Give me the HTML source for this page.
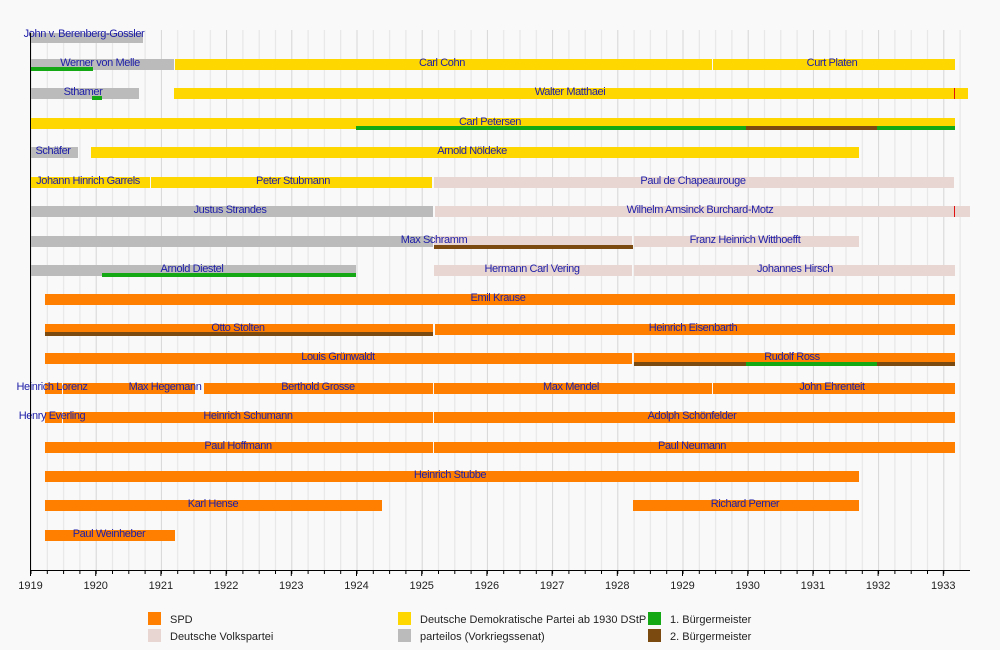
<!DOCTYPE html>
<html><head><meta charset="utf-8"><style>
body{margin:0;background:#f9f9f9}
svg{display:block;font-family:"Liberation Sans",sans-serif}
.l{font-size:11px;fill:#1c1ca8;text-anchor:middle;letter-spacing:-0.4px}
.t{font-size:11px;fill:#222;text-anchor:middle}
.g{font-size:11px;fill:#222}
.o{fill:#ff8000}.y{fill:#ffd700}.p{fill:#bbb}.v{fill:#e8d6d2}.gr{fill:#14a814}.br{fill:#7a4a10}.r{fill:#e01010}
</style></head><body>
<svg width="1000" height="650" viewBox="0 0 1000 650">
<defs>
<pattern id="gp" x="30.5" y="0" width="65.2" height="650" patternUnits="userSpaceOnUse">
<rect x="0" y="0" width="1" height="650" fill="#d6d6d6"/>
<rect x="16.3" y="0" width="1" height="650" fill="#e4e4e4"/>
<rect x="32.6" y="0" width="1" height="650" fill="#e4e4e4"/>
<rect x="48.9" y="0" width="1" height="650" fill="#e4e4e4"/>
</pattern>
<pattern id="tk" x="30.5" y="0" width="16.3" height="10" patternUnits="userSpaceOnUse">
<rect x="0" y="0" width="1" height="4" fill="#000"/>
</pattern>
</defs>
<rect width="1000" height="650" fill="#f9f9f9"/>
<rect x="30" y="30" width="940" height="540" fill="url(#gp)"/>

<rect class="p" x="30" y="33" width="113" height="10"/>
<rect class="p" x="30" y="59" width="144" height="11"/>
<rect class="gr" x="30" y="67" width="63" height="4"/>
<rect class="y" x="175" y="59" width="537" height="11"/>
<rect class="y" x="713" y="59" width="242" height="11"/>
<rect class="p" x="30" y="88" width="109" height="11"/>
<rect class="gr" x="92" y="96" width="10" height="4"/>
<rect class="y" x="174" y="88" width="794" height="11"/>
<rect class="r" x="954" y="88" width="1" height="11"/>
<rect class="y" x="30" y="118" width="925" height="11"/>
<rect class="gr" x="356" y="126" width="390" height="4"/>
<rect class="br" x="746" y="126" width="131" height="4"/>
<rect class="gr" x="877" y="126" width="78" height="4"/>
<rect class="p" x="30" y="147" width="48" height="11"/>
<rect class="y" x="91" y="147" width="768" height="11"/>
<rect class="y" x="30" y="177" width="120" height="11"/>
<rect class="y" x="151" y="177" width="281" height="11"/>
<rect class="v" x="434" y="177" width="520" height="11"/>
<rect class="p" x="30" y="206" width="403" height="11"/>
<rect class="v" x="435" y="206" width="535" height="11"/>
<rect class="r" x="954" y="206" width="1" height="11"/>
<rect class="p" x="30" y="236" width="403" height="11"/>
<rect class="v" x="434" y="236" width="198" height="11"/>
<rect class="v" x="634" y="236" width="225" height="11"/>
<rect class="br" x="434" y="245" width="199" height="4"/>
<rect class="p" x="30" y="265" width="326" height="11"/>
<rect class="gr" x="102" y="273" width="254" height="4"/>
<rect class="v" x="434" y="265" width="198" height="11"/>
<rect class="v" x="634" y="265" width="321" height="11"/>
<rect class="o" x="45" y="294" width="910" height="11"/>
<rect class="o" x="45" y="324" width="388" height="11"/>
<rect class="br" x="45" y="332" width="388" height="4"/>
<rect class="o" x="435" y="324" width="520" height="11"/>
<rect class="o" x="45" y="353" width="587" height="11"/>
<rect class="o" x="634" y="353" width="321" height="11"/>
<rect class="br" x="634" y="362" width="112" height="4"/>
<rect class="gr" x="746" y="362" width="131" height="4"/>
<rect class="br" x="877" y="362" width="78" height="4"/>
<rect class="o" x="45" y="383" width="17" height="11"/>
<rect class="o" x="63" y="383" width="132" height="11"/>
<rect class="o" x="204" y="383" width="229" height="11"/>
<rect class="o" x="434" y="383" width="278" height="11"/>
<rect class="o" x="713" y="383" width="242" height="11"/>
<rect class="o" x="45" y="412" width="17" height="11"/>
<rect class="o" x="63" y="412" width="370" height="11"/>
<rect class="o" x="434" y="412" width="521" height="11"/>
<rect class="o" x="45" y="442" width="388" height="11"/>
<rect class="o" x="434" y="442" width="521" height="11"/>
<rect class="o" x="45" y="471" width="814" height="11"/>
<rect class="o" x="45" y="500" width="337" height="11"/>
<rect class="o" x="633" y="500" width="226" height="11"/>
<rect class="o" x="45" y="530" width="130" height="11"/>

<text class="l" x="84" y="37">John v. Berenberg-Gossler</text>
<text class="l" x="100" y="66">Werner von Melle</text>
<text class="l" x="442" y="66">Carl Cohn</text>
<text class="l" x="832" y="66">Curt Platen</text>
<text class="l" x="83" y="95">Sthamer</text>
<text class="l" x="570" y="95">Walter Matthaei</text>
<text class="l" x="490" y="125">Carl Petersen</text>
<text class="l" x="53" y="154">Schäfer</text>
<text class="l" x="472" y="154">Arnold Nöldeke</text>
<text class="l" x="88" y="184">Johann Hinrich Garrels</text>
<text class="l" x="293" y="184">Peter Stubmann</text>
<text class="l" x="693" y="184">Paul de Chapeaurouge</text>
<text class="l" x="230" y="213">Justus Strandes</text>
<text class="l" x="700" y="213">Wilhelm Amsinck Burchard-Motz</text>
<text class="l" x="434" y="243">Max Schramm</text>
<text class="l" x="745" y="243">Franz Heinrich Witthoefft</text>
<text class="l" x="192" y="272">Arnold Diestel</text>
<text class="l" x="532" y="272">Hermann Carl Vering</text>
<text class="l" x="795" y="272">Johannes Hirsch</text>
<text class="l" x="498" y="301">Emil Krause</text>
<text class="l" x="238" y="331">Otto Stolten</text>
<text class="l" x="693" y="331">Heinrich Eisenbarth</text>
<text class="l" x="338" y="360">Louis Grünwaldt</text>
<text class="l" x="792" y="360">Rudolf Ross</text>
<text class="l" x="52" y="390">Heinrich Lorenz</text>
<text class="l" x="165" y="390">Max Hegemann</text>
<text class="l" x="318" y="390">Berthold Grosse</text>
<text class="l" x="571" y="390">Max Mendel</text>
<text class="l" x="832" y="390">John Ehrenteit</text>
<text class="l" x="52" y="419">Henry Everling</text>
<text class="l" x="248" y="419">Heinrich Schumann</text>
<text class="l" x="692" y="419">Adolph Schönfelder</text>
<text class="l" x="238" y="449">Paul Hoffmann</text>
<text class="l" x="692" y="449">Paul Neumann</text>
<text class="l" x="450" y="478">Heinrich Stubbe</text>
<text class="l" x="213" y="507">Karl Hense</text>
<text class="l" x="745" y="507">Richard Perner</text>
<text class="l" x="109" y="537">Paul Weinheber</text>

<rect x="30" y="33" width="1" height="538" fill="#000"/>
<rect x="30" y="570" width="940" height="1" fill="#000"/>
<rect x="30" y="570" width="925" height="4" fill="url(#tk)"/>
<g fill="#000">
<rect x="30" y="570" width="1" height="6"/><rect x="95.2" y="570" width="1" height="6"/><rect x="160.4" y="570" width="1" height="6"/><rect x="225.6" y="570" width="1" height="6"/><rect x="290.8" y="570" width="1" height="6"/><rect x="356" y="570" width="1" height="6"/><rect x="421.2" y="570" width="1" height="6"/><rect x="486.4" y="570" width="1" height="6"/><rect x="551.6" y="570" width="1" height="6"/><rect x="616.8" y="570" width="1" height="6"/><rect x="682" y="570" width="1" height="6"/><rect x="747.2" y="570" width="1" height="6"/><rect x="812.4" y="570" width="1" height="6"/><rect x="877.6" y="570" width="1" height="6"/><rect x="942.8" y="570" width="1" height="6"/>
</g>
<g class="t">
<text x="30.5" y="589">1919</text><text x="95.7" y="589">1920</text><text x="160.9" y="589">1921</text><text x="226.1" y="589">1922</text><text x="291.3" y="589">1923</text><text x="356.5" y="589">1924</text><text x="421.7" y="589">1925</text><text x="486.9" y="589">1926</text><text x="552.1" y="589">1927</text><text x="617.3" y="589">1928</text><text x="682.5" y="589">1929</text><text x="747.7" y="589">1930</text><text x="812.9" y="589">1931</text><text x="878.1" y="589">1932</text><text x="943.3" y="589">1933</text>
</g>

<rect class="o" x="148" y="612" width="13" height="13"/>
<rect class="v" x="148" y="629" width="13" height="13"/>
<rect class="y" x="398" y="612" width="13" height="13"/>
<rect class="p" x="398" y="629" width="13" height="13"/>
<rect class="gr" x="648" y="612" width="13" height="13"/>
<rect class="br" x="648" y="629" width="13" height="13"/>
<text class="g" x="170" y="623">SPD</text>
<text class="g" x="170" y="640">Deutsche Volkspartei</text>
<text class="g" x="420" y="623">Deutsche Demokratische Partei ab 1930 DStP</text>
<text class="g" x="420" y="640">parteilos (Vorkriegssenat)</text>
<text class="g" x="670" y="623">1. Bürgermeister</text>
<text class="g" x="670" y="640">2. Bürgermeister</text>
</svg>
</body></html>
